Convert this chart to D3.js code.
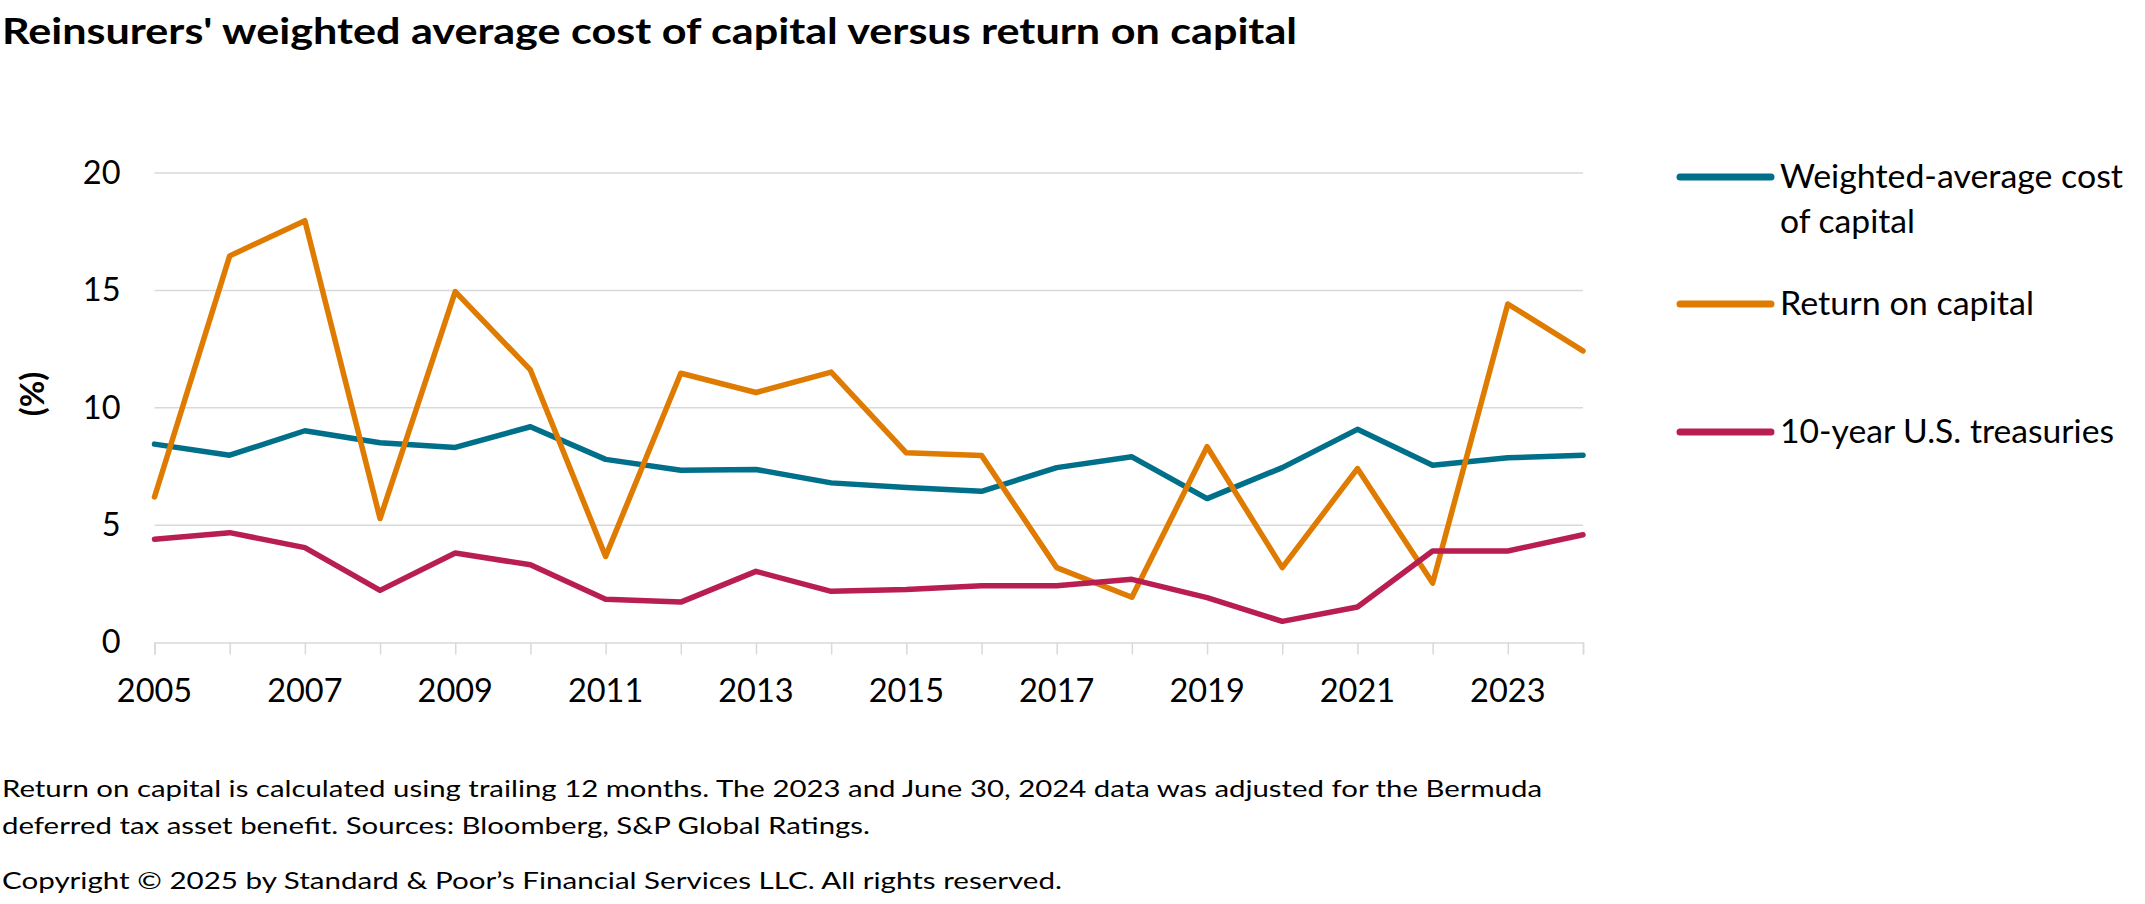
<!DOCTYPE html>
<html>
<head>
<meta charset="utf-8">
<script src="https://cdn.jsdelivr.net/npm/d3@7"></script>
<style>
  body { margin: 0; background: #fff; }
  text { font-family: Lato, "Open Sans", sans-serif; fill: #000; }
</style>
</head>
<body>
<script>
var years = [ 2005, 2006, 2007, 2008, 2009, 2010, 2011, 2012, 2013, 2014,
  2015, 2016, 2017, 2018, 2019, 2020, 2021, 2022, 2023, 2024 ];

var waccValues = [ 8.45, 7.98, 9.02, 8.51, 8.31, 9.19, 7.80, 7.34, 7.37, 6.80,
  6.60, 6.44, 7.45, 7.91, 6.13, 7.45, 9.08, 7.55, 7.87, 7.98 ];

var rocValues = [ 6.2, 16.47, 17.97, 5.28, 14.95, 11.61, 3.67, 11.47, 10.65, 11.52,
  8.08, 7.97, 3.19, 1.93, 8.34, 3.19, 7.41, 2.53, 14.42, 12.42 ];

var treasuryValues = [ 4.40, 4.68, 4.04, 2.22, 3.81, 3.31, 1.84, 1.72, 3.03, 2.18,
  2.26, 2.42, 2.42, 2.69, 1.91, 0.90, 1.51, 3.90, 3.90, 4.59 ];

var yTicks = [ 0, 5, 10, 15, 20 ];
var xTickLabels = [ 2005, 2007, 2009, 2011, 2013, 2015, 2017, 2019, 2021, 2023 ];

var seriesNames = [ [ "Weighted-average cost", "of capital" ], [ "Return on capital" ], [ "10-year U.S. treasuries" ] ];
var seriesColors = [ "#006F8A", "#DF7B00", "#B91E50" ];

var title = "Reinsurers' weighted average cost of capital versus return on capital";
var notes = [
  "Return on capital is calculated using trailing 12 months. The 2023 and June 30, 2024 data was adjusted for the Bermuda",
  "deferred tax asset benefit. Sources: Bloomberg, S&P Global Ratings.",
  "Copyright \u00A9 2025 by Standard & Poor\u2019s Financial Services LLC. All rights reserved."
];

var W = 2145, H = 904;
// plot box (window.top is read-only, so no plain "top")
var plotLeft = 154.5, plotRight = 1583, plotTop = 173, plotBottom = 642.5;

var svg = d3.select( "body" ).append( "svg" )
  .attr( "width", W )
  .attr( "height", H );

svg.append( "rect" ).attr( "width", W ).attr( "height", H ).attr( "fill", "#fff" );

// squeeze/stretch text to the width it has in the picture
function fitWidth( sel, w ) {
  sel.each( function () {
    var len = this.getComputedTextLength();
    if ( Math.abs( len - w ) > 2 ) {
      d3.select( this ).attr( "textLength", w ).attr( "lengthAdjust", "spacingAndGlyphs" );
    }
  } );
}

var x = d3.scaleLinear().domain( [ 2005, 2024 ] ).range( [ plotLeft, plotRight ] );
var y = d3.scaleLinear().domain( [ 0, 20 ] ).range( [ plotBottom, plotTop ] );

// title
svg.append( "text" )
  .attr( "x", 2 )
  .attr( "y", 44 )
  .attr( "font-size", 37 )
  .attr( "font-weight", "bold" )
  .text( title )
  .call( fitWidth, 1295 );

// gridlines
svg.selectAll( "line.grid" )
  .data( yTicks.slice( 1 ) )
  .enter().append( "line" )
  .attr( "class", "grid" )
  .attr( "x1", plotLeft )
  .attr( "x2", plotRight )
  .attr( "y1", function ( d ) { return y( d ); } )
  .attr( "y2", function ( d ) { return y( d ); } )
  .attr( "stroke", "#D9D9D9" )
  .attr( "stroke-width", 1.5 );

// y axis labels
var yAxis = d3.axisLeft( y ).tickValues( yTicks ).tickSize( 0 ).tickPadding( 34 );
var gy = svg.append( "g" ).attr( "transform", "translate(" + plotLeft + ",0)" ).call( yAxis );
gy.select( ".domain" ).remove();
gy.selectAll( "text" )
  .attr( "font-size", 32.5 )
  .attr( "font-family", "Lato" )
  .attr( "fill", "#000" );

svg.append( "text" )
  .attr( "transform", "translate(44,394) rotate(-90)" )
  .attr( "text-anchor", "middle" )
  .attr( "font-size", 32.5 )
  .attr( "font-weight", "bold" )
  .text( "(%)" );

// x axis: tick every year, label every other year
var xAxis = d3.axisBottom( x ).tickValues( years ).tickSize( 12 ).tickFormat( "" );
var gx = svg.append( "g" ).attr( "transform", "translate(0," + plotBottom + ")" ).call( xAxis );
gx.select( ".domain" ).attr( "stroke", "#D9D9D9" ).attr( "stroke-width", 1.5 );
gx.selectAll( ".tick line" ).attr( "stroke", "#D9D9D9" ).attr( "stroke-width", 1.5 );

svg.selectAll( "text.xlab" )
  .data( xTickLabels )
  .enter().append( "text" )
  .attr( "class", "xlab" )
  .attr( "x", function ( d ) { return x( d ); } )
  .attr( "y", 702 )
  .attr( "text-anchor", "middle" )
  .attr( "font-size", 32.5 )
  .text( function ( d ) { return d; } );

// lines
var allSeries = [ waccValues, rocValues, treasuryValues ];
var line = d3.line()
  .x( function ( d, i ) { return x( years[ i ] ); } )
  .y( function ( d ) { return y( d ); } );

svg.selectAll( "path.series" )
  .data( allSeries )
  .enter().append( "path" )
  .attr( "class", "series" )
  .attr( "d", line )
  .attr( "fill", "none" )
  .attr( "stroke", function ( d, i ) { return seriesColors[ i ]; } )
  .attr( "stroke-width", 5.5 )
  .attr( "stroke-linejoin", "round" )
  .attr( "stroke-linecap", "round" );

// legend
var legendY = [ 177, 304, 432 ];
var legendWidths = [ [ 343, 135 ], [ 254 ], [ 334 ] ];
var lg = svg.selectAll( "g.legend" )
  .data( seriesNames )
  .enter().append( "g" )
  .attr( "class", "legend" )
  .attr( "transform", function ( d, i ) { return "translate(0," + legendY[ i ] + ")"; } );

lg.append( "line" )
  .attr( "x1", 1680 )
  .attr( "x2", 1771 )
  .attr( "stroke", function ( d, i ) { return seriesColors[ i ]; } )
  .attr( "stroke-width", 7 )
  .attr( "stroke-linecap", "round" );

lg.each( function ( names, i ) {
  var g = d3.select( this );
  names.forEach( function ( s, k ) {
    g.append( "text" )
      .attr( "x", 1780 )
      .attr( "y", 11 + k * 45 )
      .attr( "font-size", 32.5 )
      .text( s )
      .call( fitWidth, legendWidths[ i ][ k ] );
  } );
} );

// notes under the chart
var noteY = [ 797, 834, 889 ];
var noteWidths = [ 1540, 868, 1060 ];
svg.selectAll( "text.note" )
  .data( notes )
  .enter().append( "text" )
  .attr( "class", "note" )
  .attr( "x", 2 )
  .attr( "y", function ( d, i ) { return noteY[ i ]; } )
  .attr( "font-size", 24 )
  .text( function ( d ) { return d; } )
  .each( function ( d, i ) { d3.select( this ).call( fitWidth, noteWidths[ i ] ); } );
</script>
</body>
</html>
